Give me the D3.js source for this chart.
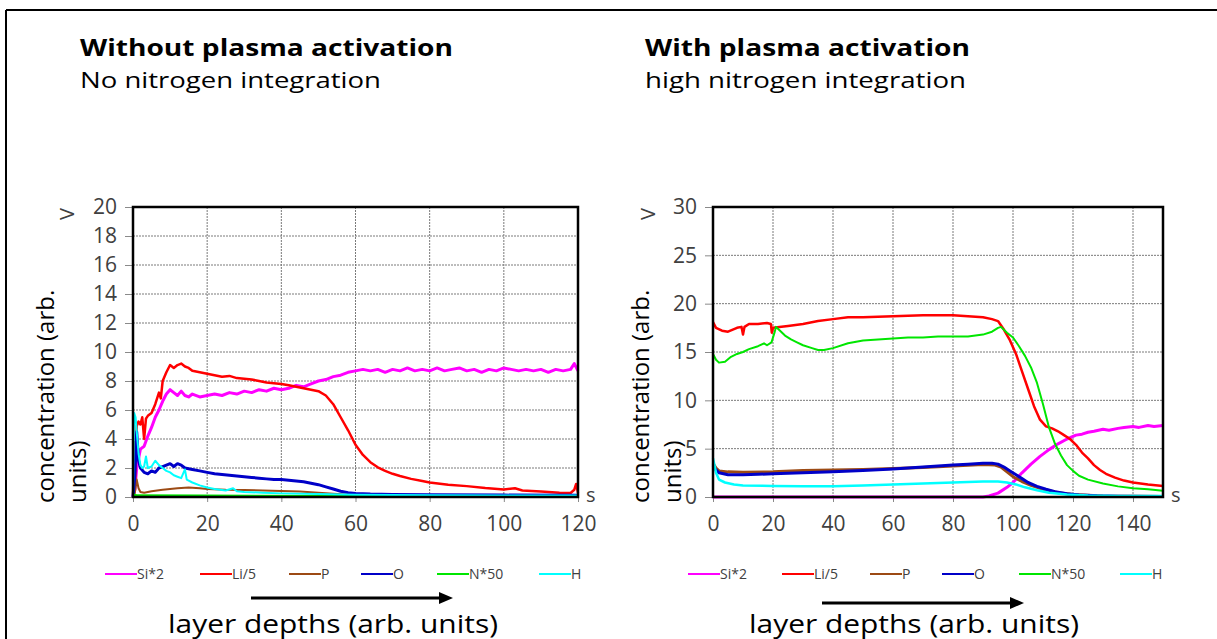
<!DOCTYPE html>
<html>
<head>
<meta charset="utf-8">
<script src="https://cdn.jsdelivr.net/npm/d3@7"></script>
<style>
  body { margin: 0; background: #fff; }
  text { font-family: "Open Sans", "Noto Sans", sans-serif; }
</style>
</head>
<body>
<div id="chart"></div>
<script>
// Taille de la figure
var width = 1217
var height = 639

// Noms et couleurs des séries
const seriesNames = ["Si*2", "Li/5", "P", "O", "N*50", "H"]
const seriesColors = ["#ff00ff", "#ff0000", "#9c4a14", "#0000c8", "#00e600", "#00ffff"]

// Panneau gauche : sans activation plasma
const leftXTicks = [0, 20, 40, 60, 80, 100, 120]
const leftYTicks = [0, 2, 4, 6, 8, 10, 12, 14, 16, 18, 20]

const leftSi = [[0,0],[0.5,0.5],[1,2.0],[2,3.3],[3,3.5],[4,4.2],[5,4.8],[6,5.5],[7,6.0],[8,6.6],[9,7.1],[10,7.4],[11,7.2],[12,7.0],[13,7.3],[14,7.0],[15,6.9],[16,7.1],[18,6.9],[20,7.0],[22,7.1],[24,7.0],[26,7.2],[28,7.1],[30,7.3],[32,7.2],[34,7.4],[36,7.3],[38,7.5],[40,7.4],[42,7.5],[44,7.7],[46,7.6],[48,7.8],[50,8.0],[52,8.1],[54,8.3],[56,8.4],[58,8.6],[60,8.7],[62,8.8],[64,8.7],[66,8.8],[68,8.6],[70,8.8],[72,8.7],[74,8.9],[76,8.7],[78,8.8],[80,8.7],[82,8.9],[84,8.7],[86,8.8],[88,8.9],[90,8.7],[92,8.8],[94,8.6],[96,8.8],[98,8.7],[100,8.9],[102,8.8],[104,8.7],[106,8.8],[108,8.7],[110,8.8],[112,8.6],[114,8.8],[116,8.7],[118,8.8],[119,9.2],[120,8.7]]
const leftLi = [[0,0],[0.3,3.8],[0.6,1.0],[1,4.9],[1.5,5.2],[2,5.0],[2.5,5.5],[3,4.0],[3.5,5.4],[4,5.6],[5,5.8],[6,6.4],[7,7.2],[7.5,6.8],[8,8.0],[9,8.6],[10,9.1],[11,8.9],[12,9.1],[13,9.2],[14,9.0],[15,8.9],[16,8.7],[18,8.6],[20,8.5],[22,8.4],[24,8.3],[26,8.35],[28,8.2],[30,8.15],[32,8.1],[34,8.0],[36,7.9],[38,7.85],[40,7.8],[42,7.7],[44,7.6],[46,7.5],[48,7.4],[50,7.3],[52,7.0],[54,6.4],[56,5.5],[58,4.6],[60,3.6],[62,2.9],[64,2.4],[66,2.05],[68,1.8],[70,1.6],[72,1.45],[75,1.25],[78,1.1],[80,1.0],[85,0.85],[90,0.75],[95,0.62],[100,0.52],[103,0.6],[105,0.45],[110,0.38],[115,0.3],[118,0.28],[119,0.5],[119.5,0.9],[120,0.3]]
const leftP = [[0,0],[0.5,0.3],[1,1.2],[1.5,0.6],[2,0.35],[3,0.3],[5,0.4],[8,0.5],[10,0.55],[12,0.6],[15,0.65],[18,0.6],[20,0.55],[25,0.5],[30,0.48],[35,0.45],[40,0.42],[45,0.38],[50,0.3],[55,0.2],[60,0.12],[70,0.08],[90,0.06],[120,0.05]]
const leftO = [[0,0],[0.5,1.5],[1,4.5],[1.5,2.5],[2,2.0],[3,1.7],[4,1.6],[5,1.8],[6,1.7],[7,2.0],[8,2.1],[9,2.2],[10,2.3],[11,2.1],[12,2.3],[13,2.2],[14,2.0],[16,1.9],[18,1.8],[20,1.7],[22,1.6],[24,1.55],[26,1.5],[28,1.45],[30,1.4],[32,1.35],[34,1.3],[36,1.25],[38,1.2],[40,1.2],[42,1.15],[44,1.1],[46,1.05],[48,0.95],[50,0.85],[52,0.7],[54,0.55],[56,0.4],[58,0.3],[60,0.25],[64,0.2],[70,0.17],[80,0.15],[100,0.13],[120,0.12]]
const leftN = [[0,0],[0.5,0.15],[1,0.1],[20,0.08],[60,0.06],[120,0.06]]
const leftH = [[0,0],[0.3,5.8],[0.7,5.5],[1,4.5],[1.5,3.0],[2,2.2],[2.5,2.0],[3,2.1],[3.5,2.8],[4,2.0],[5,2.1],[6,2.5],[7,2.2],[8,2.0],[9,1.8],[10,1.7],[11,1.5],[12,1.4],[13,1.3],[14,1.9],[14.5,1.2],[16,1.0],[18,0.8],[20,0.65],[22,0.55],[25,0.45],[27,0.6],[28,0.4],[30,0.35],[35,0.3],[40,0.25],[50,0.2],[60,0.15],[80,0.12],[100,0.1],[120,0.1]]

// Panneau droit : avec activation plasma
const rightXTicks = [0, 20, 40, 60, 80, 100, 120, 140]
const rightYTicks = [0, 5, 10, 15, 20, 25, 30]

const rightSi = [[0,0],[90,0],[92,0.1],[95,0.4],[98,1.0],[100,1.5],[103,2.5],[106,3.4],[109,4.2],[112,4.9],[115,5.5],[118,6.0],[121,6.4],[123,6.5],[125,6.7],[127,6.8],[130,7.0],[132,6.9],[135,7.1],[137,7.2],[140,7.3],[142,7.2],[145,7.4],[147,7.3],[150,7.4]]
const rightLi = [[0,18.1],[1,17.5],[3,17.2],[5,17.1],[8,17.5],[9.5,17.6],[10,16.8],[10.5,17.6],[12,17.9],[15,17.9],[18,18.0],[19.3,17.9],[19.6,17.0],[20,17.5],[25,17.7],[30,17.9],[35,18.2],[40,18.4],[45,18.6],[50,18.6],[60,18.7],[70,18.8],[80,18.8],[85,18.7],[90,18.6],[93,18.4],[95,18.2],[97,17.3],[99,16.2],[101,14.8],[103,13.0],[105,11.2],[107,9.4],[109,8.0],[111,7.3],[113,7.1],[115,6.8],[117,6.4],[119,6.0],[121,5.4],[123,4.6],[125,4.0],[127,3.3],[129,2.8],[131,2.4],[134,2.0],[137,1.7],[140,1.5],[145,1.3],[150,1.15]]
const rightP = [[0,3.5],[1,3.0],[2,2.7],[5,2.6],[10,2.55],[20,2.6],[30,2.75],[40,2.8],[50,2.85],[60,2.95],[70,3.05],[80,3.2],[90,3.35],[94,3.3],[96,3.1],[98,2.6],[100,2.1],[103,1.6],[106,1.2],[110,0.8],[115,0.45],[120,0.25],[130,0.1],[150,0.05]]
const rightO = [[0,3.3],[1,2.8],[2,2.5],[5,2.3],[10,2.3],[15,2.35],[20,2.4],[30,2.5],[40,2.6],[50,2.75],[60,2.9],[70,3.1],[80,3.3],[85,3.4],[90,3.5],[93,3.5],[95,3.4],[97,3.1],[99,2.7],[101,2.3],[103,1.9],[105,1.5],[108,1.1],[111,0.8],[114,0.55],[118,0.35],[122,0.22],[128,0.12],[135,0.08],[150,0.05]]
const rightN = [[0,14.8],[1,14.2],[2,13.9],[4,14.0],[6,14.5],[8,14.8],[10,15.0],[12,15.3],[15,15.6],[17,15.9],[18,15.7],[19.5,16.0],[20.5,17.0],[21,17.6],[22,17.3],[24,16.7],[26,16.3],[28,16.0],[30,15.7],[33,15.4],[35,15.2],[37,15.2],[40,15.4],[45,15.9],[50,16.2],[55,16.3],[60,16.4],[65,16.5],[70,16.5],[75,16.6],[80,16.6],[85,16.6],[90,16.8],[93,17.1],[95,17.5],[96,17.6],[98,17.0],[100,16.5],[102,15.6],[104,14.6],[106,13.4],[108,11.8],[110,9.6],[112,7.2],[114,5.5],[116,4.3],[118,3.3],[120,2.7],[122,2.2],[125,1.8],[130,1.4],[135,1.1],[140,0.9],[145,0.8],[150,0.65]]
const rightH = [[0,4.0],[1,2.5],[2,1.8],[4,1.5],[7,1.3],[10,1.2],[20,1.15],[30,1.1],[40,1.1],[50,1.2],[60,1.3],[70,1.4],[80,1.5],[90,1.6],[95,1.6],[98,1.5],[101,1.3],[104,1.0],[108,0.7],[112,0.45],[118,0.25],[125,0.15],[135,0.1],[150,0.1]]

const svg = d3.select("#chart")
  .append("svg")
    .attr("width", width)
    .attr("height", height)

// Cadre extérieur (haut et gauche)
svg.append("line").attr("x1", 6).attr("x2", width).attr("y1", 10).attr("y2", 10)
  .attr("stroke", "black").attr("stroke-width", 2)
svg.append("line").attr("x1", 6).attr("x2", 6).attr("y1", 10).attr("y2", height)
  .attr("stroke", "black").attr("stroke-width", 2)

function drawPanel(p) {
  const g = svg.append("g")

  // Titres
  g.append("text").attr("x", p.titleX).attr("y", 56)
    .attr("font-size", 24).attr("font-weight", "bold").attr("fill", "#000")
    .attr("textLength", p.titleLen).attr("lengthAdjust", "spacingAndGlyphs")
    .text(p.title)
  g.append("text").attr("x", p.titleX).attr("y", 88)
    .attr("font-size", 22).attr("fill", "#000")
    .attr("textLength", p.subLen).attr("lengthAdjust", "spacingAndGlyphs")
    .text(p.subtitle)

  const x = d3.scaleLinear().domain([0, p.xMax]).range([p.left, p.right])
  const y = d3.scaleLinear().domain([0, p.yMax]).range([497, 207])

  // Grille pointillée
  g.append("g").selectAll("line")
    .data(p.xTicks.filter(d => d > 0 && d < p.xMax))
    .join("line")
      .attr("x1", d => x(d)).attr("x2", d => x(d))
      .attr("y1", y(p.yMax)).attr("y2", y(0))
      .attr("stroke", "#7a7a7a").attr("stroke-width", 1).attr("stroke-dasharray", "2,1")
  g.append("g").selectAll("line")
    .data(p.yTicks.filter(d => d > 0 && d < p.yMax))
    .join("line")
      .attr("x1", x(0)).attr("x2", x(p.xMax))
      .attr("y1", d => y(d)).attr("y2", d => y(d))
      .attr("stroke", "#7a7a7a").attr("stroke-width", 1).attr("stroke-dasharray", "2,1")

  // Axes
  const yAxis = g.append("g")
    .attr("transform", `translate(${p.left},0)`)
    .call(d3.axisLeft(y).tickValues(p.yTicks).tickSize(8).tickPadding(8).tickFormat(d3.format("d")))
  const xAxis = g.append("g")
    .attr("transform", "translate(0,497)")
    .call(d3.axisBottom(x).tickValues(p.xTicks).tickSize(5).tickPadding(14).tickFormat(d3.format("d")))
  ;[yAxis, xAxis].forEach(a => {
    a.select(".domain").remove()
    a.selectAll(".tick line").attr("stroke", "#8a8a8a")
    a.selectAll(".tick text").attr("font-size", 21).attr("fill", "#404040")
      .attr("font-family", "'Open Sans', sans-serif")
  })

  // Courbes
  const line = d3.line().x(d => x(d[0])).y(d => y(d[1]))
  p.series.forEach((s, i) => {
    g.append("path")
      .datum(s)
      .attr("fill", "none")
      .attr("stroke", seriesColors[i])
      .attr("stroke-width", p.widths[i])
      .attr("stroke-linejoin", "round")
      .attr("d", line)
  })

  // Cadre du graphique
  g.append("rect")
    .attr("x", p.left).attr("y", 207)
    .attr("width", p.right - p.left).attr("height", 290)
    .attr("fill", "none").attr("stroke", "black").attr("stroke-width", 2.5)

  // Unités
  g.append("text").attr("x", p.right + 8).attr("y", 502)
    .attr("font-size", 20).attr("fill", "#404040").text("s")
  g.append("text")
    .attr("transform", `translate(${p.vX},208) rotate(-90)`)
    .attr("text-anchor", "end")
    .attr("font-size", 20).attr("fill", "#404040").text("V")

  // Titre de l'axe Y (deux lignes)
  g.append("text")
    .attr("transform", `translate(${p.yTitleX},503) rotate(-90)`)
    .attr("font-size", 24).attr("fill", "#000")
    .text("concentration (arb.")
  g.append("text")
    .attr("transform", `translate(${p.yTitleX + 32},503) rotate(-90)`)
    .attr("font-size", 24).attr("fill", "#000")
    .text("units)")

  // Légende
  const leg = g.append("g").selectAll("g")
    .data(seriesNames)
    .join("g")
      .attr("transform", (d, i) => `translate(${p.legendX[i]},574)`)
  leg.append("line").attr("x1", 0).attr("x2", 32).attr("y1", 0).attr("y2", 0)
    .attr("stroke", (d, i) => seriesColors[i]).attr("stroke-width", 2)
  leg.append("text").attr("x", 32).attr("y", 5)
    .attr("font-size", 14).attr("fill", "#404040")
    .text(d => d)

  // Flèche de profondeur
  g.append("line")
    .attr("x1", p.arrowX).attr("x2", p.arrowX + 190)
    .attr("y1", p.arrowY).attr("y2", p.arrowY)
    .attr("stroke", "black").attr("stroke-width", 3)
  g.append("path")
    .attr("d", `M${p.arrowX + 202},${p.arrowY} L${p.arrowX + 188},${p.arrowY - 6} L${p.arrowX + 188},${p.arrowY + 6} Z`)
    .attr("fill", "black")
  g.append("text").attr("x", p.depthX).attr("y", 633)
    .attr("font-size", 25).attr("fill", "#000")
    .attr("textLength", 330).attr("lengthAdjust", "spacingAndGlyphs")
    .text("layer depths (arb. units)")
}

drawPanel({
  title: "Without plasma activation", subtitle: "No nitrogen integration",
  titleX: 80, titleLen: 373, subLen: 301,
  left: 133, right: 578, xMax: 120, yMax: 20,
  xTicks: leftXTicks, yTicks: leftYTicks,
  series: [leftSi, leftLi, leftP, leftO, leftN, leftH],
  widths: [3, 2.5, 2, 3, 2.5, 2],
  vX: 74, yTitleX: 54,
  legendX: [105, 200, 289, 361, 437, 539],
  arrowX: 251, arrowY: 598, depthX: 168
})

drawPanel({
  title: "With plasma activation", subtitle: "high nitrogen integration",
  titleX: 645, titleLen: 325, subLen: 321,
  left: 713, right: 1163, xMax: 150, yMax: 30,
  xTicks: rightXTicks, yTicks: rightYTicks,
  series: [rightSi, rightLi, rightP, rightO, rightN, rightH],
  widths: [3, 2.5, 3, 3, 2, 2.5],
  vX: 655, yTitleX: 649,
  legendX: [688, 782, 870, 942, 1019, 1120],
  arrowX: 822, arrowY: 603, depthX: 749
})
</script>
</body>
</html>
